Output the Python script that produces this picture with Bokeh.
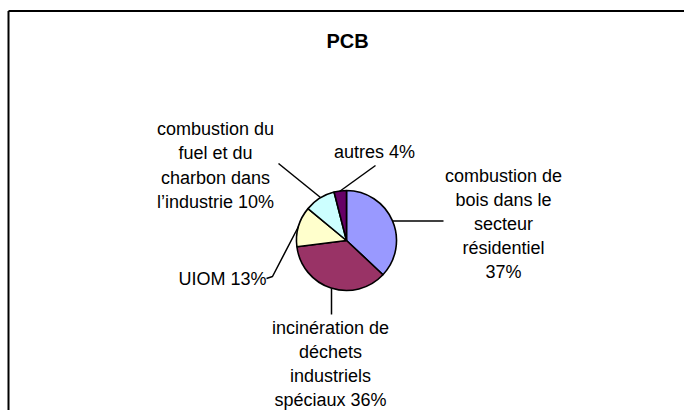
import math
from bokeh.plotting import figure
from bokeh.models import Range1d
from bokeh.core.properties import value
from bokeh.embed import file_html
from bokeh.resources import INLINE

# ---- data ----
title = "PCB"
categories = [
    "combustion de bois dans le secteur résidentiel",
    "incinération de déchets industriels spéciaux",
    "UIOM",
    "combustion du fuel et du charbon dans l’industrie",
    "autres",
]
shares = [37, 36, 13, 10, 4]
colors = ["#9999FF", "#993366", "#FFFFCC", "#CCFFFF", "#660066"]
label_lines = [
    ["combustion de", "bois dans le", "secteur", "résidentiel", "37%"],
    ["incinération de", "déchets", "industriels", "spéciaux 36%"],
    ["UIOM 13%"],
    ["combustion du", "fuel et du", "charbon dans", "l’industrie 10%"],
    ["autres 4%"],
]

# ---- layout (screen pixel positions in the 684x412 window) ----
W, H = 684, 410
def sy(v):
    return H - v

cx, cy, r = 346, 240, 50
label_pos = [  # (anchor x, first line y, line step, align)
    (503, 175, 24, "center"),
    (330, 327, 24, "center"),
    (266, 278, 24, "right"),
    (215, 128, 24.5, "center"),
    (374, 151, 24, "center"),
]
leaders = [
    [(392, 220.5), (443, 220.5)],
    [(331, 288), (331, 314)],
    [(266, 278), (272, 276), (298, 226)],
    [(278, 163), (320, 197)],
    [(375, 165), (339, 191)],
]

p = figure(width=W, height=H, output_backend="svg", toolbar_location=None,
           x_range=Range1d(0, W), y_range=Range1d(0, H),
           min_border=0)
p.axis.visible = False
p.grid.visible = False
p.outline_line_color = None
p.background_fill_color = "white"
p.border_fill_color = "white"

# chart-area frame (left and top edges; right and bottom lie off-window)
p.segment(x0=[8, 8], y0=[0, sy(10.5)], x1=[8, W], y1=[sy(10.5), sy(10.5)],
          line_color="black", line_width=2)

# pie
total = float(sum(shares))
cum = 0.0
starts, ends = [], []
for s in shares:
    a0 = math.pi / 2 - 2 * math.pi * cum / total
    cum += s
    a1 = math.pi / 2 - 2 * math.pi * cum / total
    starts.append(a1)
    ends.append(a0)
p.wedge(x=[cx] * len(shares), y=[sy(cy)] * len(shares), radius=r,
        radius_units="screen", start_angle=starts, end_angle=ends,
        direction="anticlock", fill_color=colors, line_color="black",
        line_width=1.6)

# leader lines
p.multi_line(xs=[[pt[0] for pt in L] for L in leaders],
             ys=[[sy(pt[1]) for pt in L] for L in leaders],
             line_color="black", line_width=1.5)

# labels
for lines, (lx, ly, step, align) in zip(label_lines, label_pos):
    p.text(x=[lx] * len(lines), y=[sy(ly + i * step) for i in range(len(lines))],
           text=lines, text_font=value("Liberation Sans"),
           text_font_size="18px", text_align=align, text_baseline="middle",
           text_color="black")

# title
p.text(x=[347], y=[sy(40)], text=[title], text_font=value("Liberation Sans"),
       text_font_size="20px", text_font_style="bold", text_align="center",
       text_baseline="middle", text_color="black")

open("out.html", "w").write(file_html(p, INLINE))
